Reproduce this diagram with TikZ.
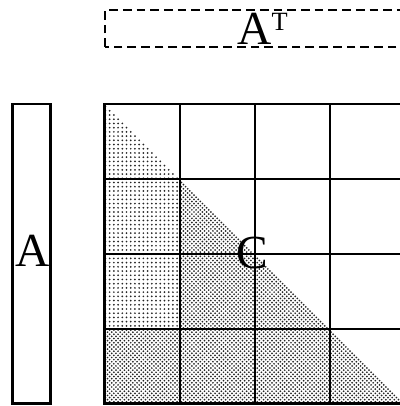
\documentclass[tikz,border=0pt]{standalone}
\usepackage{fontspec}
\setmainfont{Liberation Serif}
\usepackage{tikz}
\usetikzlibrary{patterns}

% halftone dot screens for the filled blocks
\pgfdeclarepatternformonly{halftone}{\pgfqpoint{-0.6pt}{-0.6pt}}{\pgfqpoint{1.8pt}{1.8pt}}{\pgfqpoint{2.4pt}{2.4pt}}{
    \pgfpathcircle{\pgfqpoint{0pt}{0pt}}{.55pt}
    \pgfpathcircle{\pgfqpoint{1.2pt}{1.2pt}}{.55pt}
    \pgfusepath{fill}
}
\pgfdeclarepatternformonly{lighttone}{\pgfqpoint{-0.6pt}{-0.6pt}}{\pgfqpoint{1.8pt}{1.8pt}}{\pgfqpoint{2.4pt}{2.4pt}}{
    \pgfpathcircle{\pgfqpoint{0pt}{0pt}}{.55pt}
    \pgfusepath{fill}
}

\tikzset{
    block/.style={line width=1.1pt},
    frame/.style={line width=1.7pt},
    dense/.style={pattern=halftone, pattern color=black!85},
    sparse/.style={pattern=lighttone, pattern color=black!85},
    big/.style={font=\fontsize{27}{30}\selectfont, inner sep=0pt}
}

\begin{document}
\begin{tikzpicture}[x=1.5cm,y=1.5cm]
    \useasboundingbox (-1.4,-0.027) rectangle (3.933,5.387);
    \clip (-1.4,-0.027) rectangle (3.933,5.387);

    % Filled blocks of C (lower triangle)
    \fill[dense] (0,0) rectangle (3,1);
    \fill[dense] (3,0) -- (3,1) -- (4,0) -- cycle;
    \fill[dense] (1,1) rectangle (2,2);
    \fill[dense] (2,1) -- (2,2) -- (3,1) -- cycle;
    \fill[dense] (1,2) -- (1,3) -- (2,2) -- cycle;
    \fill[sparse] (0,1) rectangle (1,3);
    \fill[sparse] (0,3) -- (0,4) -- (1,3) -- cycle;

    % Block grid of C
    \foreach \i in {1,2,3} {
        \draw[block] (\i,0) -- (\i,4);
        \draw[block] (0,\i) -- (4,\i);
    }
    \draw[frame] (0,0) rectangle (4,4);

    % Column panel A
    \draw[frame] (-1.227,0) rectangle (-0.733,4);

    % Row panel A^T
    \draw[line width=1.5pt, dash pattern=on 5pt off 2.8pt] (0,4.76) rectangle (4.1,5.253);

    % Labels
    \node[big, anchor=base] (labA) at (-0.96,1.827) {A};
    \node[big, anchor=base] (labC) at (1.96,1.813) {C};
    \node[big, anchor=base west] (labAT) at (1.76,4.787)
        {A\raisebox{8pt}{\fontsize{15}{15}\selectfont T}};
\end{tikzpicture}
\end{document}
